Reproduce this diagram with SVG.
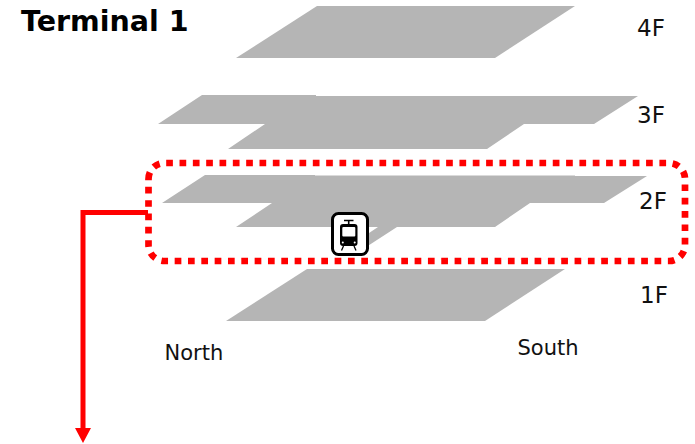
<svg xmlns="http://www.w3.org/2000/svg" width="695" height="444" viewBox="0 0 695 444">
<style>
.floor{fill:#b5b5b5;stroke:none}
.lbl{font-family:"DejaVu Sans",sans-serif;fill:#111}
.f{font-size:23px}
.d{font-size:21px}
</style>
<rect width="695" height="444" fill="#fff"/>
<text x="21" y="31" font-size="28.500" font-weight="700" font-family="DejaVu Sans, sans-serif" fill="#000">Terminal 1</text>
<g id="floor-4F"><polygon class="floor" points="317,6 575,6 495,58 236,58"/><text class="lbl f" x="637" y="36">4F</text></g>
<g id="floor-3F"><polygon class="floor" points="202,95 316,95 316,96 638,96 594,124 524,124 487,149 228,149 265,124 158,124"/><text class="lbl f" x="637" y="123">3F</text></g>
<g id="floor-2F"><polygon class="floor" points="205,175 315,175 315,175.500 575,175.500 575,176 647,176 604,203 530,203 495,227 397,227 360,251 360,239 378,227 236,227 272,203 162,203"/><text class="lbl f" x="639" y="209">2F</text></g>
<g id="floor-1F"><polygon class="floor" points="307,269 565,269 485,321 226,321"/><text class="lbl f" x="640" y="303">1F</text></g>
<g id="north"><text class="lbl d" x="164.500" y="360">North</text></g>
<g id="south"><text class="lbl d" x="517.500" y="355">South</text></g>
<g id="tram-icon">
<rect x="332.500" y="213.500" width="35" height="41" rx="6" fill="#fff" stroke="#000" stroke-width="3"/>
<path d="M344 220.500h9.500M348.700 220.500v3.500" stroke="#000" stroke-width="1.600" fill="none"/>
<path d="M343 224h11.500q3 0 3 3v16q0 3-3 3h-11.500q-3 0-3-3v-16q0-3 3-3z" fill="#000"/>
<rect x="342.300" y="227" width="13" height="9.500" rx="1" fill="#fff"/>
<circle cx="342.800" cy="242.500" r="1" fill="#fff"/><circle cx="354.700" cy="242.500" r="1" fill="#fff"/>
<path d="M343.500 246l-2 4.500M354 246l2 4.500" stroke="#000" stroke-width="1.300" fill="none"/>
</g>
<g id="connectors">
<path id="highlight" d="M148.500 179a16 16 0 0 1 16-16H669a16 16 0 0 1 16 16v66a16 16 0 0 1-16 16H164.500a16 16 0 0 1-16-16z" fill="none" stroke="#f00" stroke-width="6.700" stroke-dasharray="6.700 6.630"/>
<path d="M148 212.500H83V429" fill="none" stroke="#f00" stroke-width="5"/>
<polygon points="75,428 91,428 83,443" fill="#f00"/>
</g>
</svg>
